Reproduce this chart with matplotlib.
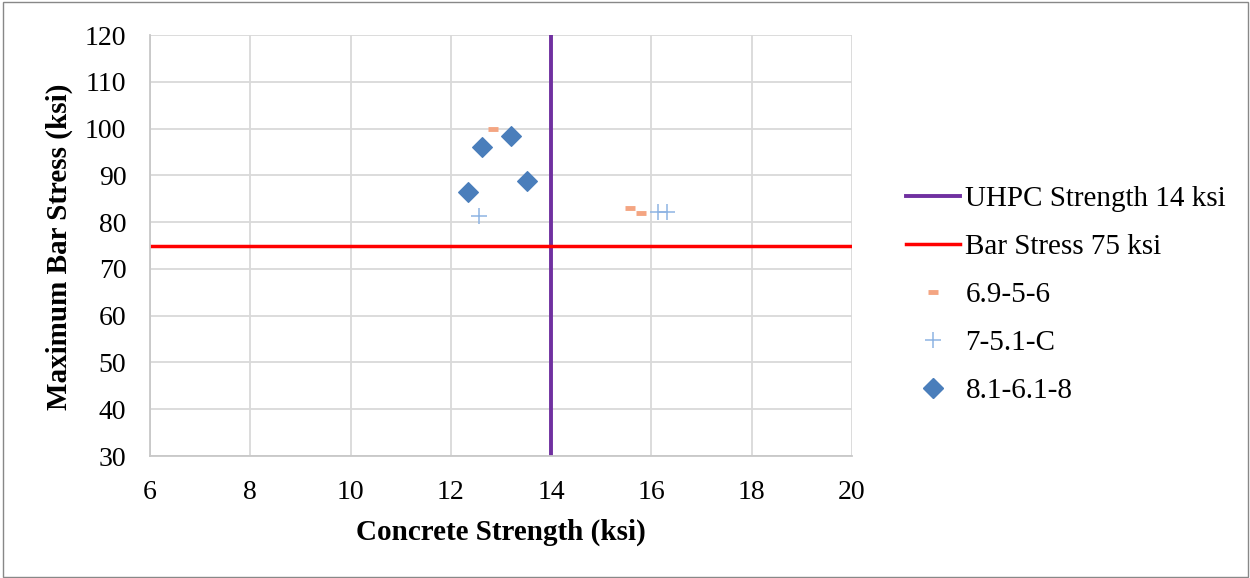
import matplotlib
matplotlib.use("Agg")
import matplotlib.pyplot as plt
from matplotlib.lines import Line2D
from matplotlib.patches import Rectangle

plt.rcParams['font.family'] = ['Liberation Serif', 'DejaVu Serif']

# data
s1_x = [12.85, 15.58, 15.79]
s1_y = [100.0, 83.0, 82.0]
s2_x = [12.56, 16.14, 16.32]
s2_y = [81.4, 82.2, 82.2]
s3_x = [13.20, 12.62, 13.51, 12.34]
s3_y = [98.5, 96.1, 88.8, 86.4]
uhpc_strength = 14
bar_stress = 75
x_ticks = [6, 8, 10, 12, 14, 16, 18, 20]
y_ticks = [30, 40, 50, 60, 70, 80, 90, 100, 110, 120]

fig = plt.figure(figsize=(12.5, 5.78), dpi=100)
fig.patches.append(Rectangle((0.002, 0.002), 0.996, 0.995, transform=fig.transFigure,
                             fill=False, edgecolor='#888888', linewidth=1.0))
ax = fig.add_axes([0.12, 0.211, 0.5616, 0.7284])

ax.set_xlim(6, 20)
ax.set_ylim(30, 120)
ax.set_xticks(x_ticks)
ax.set_yticks(y_ticks)
ax.grid(True, color='#d9d9d9', linewidth=1.3)
ax.set_axisbelow(True)
for sp in ax.spines.values():
    sp.set_visible(False)
for side in ('bottom', 'left'):
    ax.spines[side].set_visible(True)
    ax.spines[side].set_color('#c8c8c8')
    ax.spines[side].set_linewidth(1.3)
ax.tick_params(length=0, labelsize=20, colors='black')
ax.tick_params(axis='x', pad=17)
ax.tick_params(axis='y', pad=17)

ax.axvline(uhpc_strength, color='#7030A0', linewidth=2.8, label='UHPC Strength 14 ksi')
ax.axhline(bar_stress, color='#FF0000', linewidth=2.5, label='Bar Stress 75 ksi')

ax.plot(s1_x, s1_y, linestyle='none', marker='_', markersize=7.5, markeredgewidth=3.5,
        color='#F4A582', label='6.9-5-6')
ax.plot(s2_x, s2_y, linestyle='none', marker='+', markersize=11.5, markeredgewidth=1.1,
        color='#8EB4E3', label='7-5.1-C')
ax.plot(s3_x, s3_y, linestyle='none', marker='D', markersize=10.5, markeredgewidth=0.8,
        color='#4A7EBB', markeredgecolor='#4A7EBB', label='8.1-6.1-8')

ax.set_xlim(6, 20)
ax.set_ylim(30, 120)

ax.set_xlabel('Concrete Strength (ksi)', fontsize=21, fontweight='bold')
ax.set_ylabel('Maximum Bar Stress (ksi)', fontsize=21, fontweight='bold')
ax.xaxis.set_label_coords(0.5, -0.148)
ax.yaxis.set_label_coords(-0.11, 0.498)

handles = [
    Line2D([], [], color='#7030A0', linewidth=2.8),
    Line2D([], [], color='#FF0000', linewidth=2.5),
    Line2D([], [], linestyle='none', marker='_', markersize=7.5, markeredgewidth=3.5, color='#F4A582'),
    Line2D([], [], linestyle='none', marker='+', markersize=11.5, markeredgewidth=1.1, color='#8EB4E3'),
    Line2D([], [], linestyle='none', marker='D', markersize=10.5, color='#4A7EBB'),
]
labels = ['UHPC Strength 14 ksi', 'Bar Stress 75 ksi', '6.9-5-6', '7-5.1-C', '8.1-6.1-8']
fig.legend(handles, labels, loc='upper left', bbox_to_anchor=(0.7245, 0.679),
           frameon=False, fontsize=21, handlelength=1.85, handletextpad=0.2,
           labelspacing=0.74, borderaxespad=0, borderpad=0)

fig.savefig('out.png', dpi=100)
